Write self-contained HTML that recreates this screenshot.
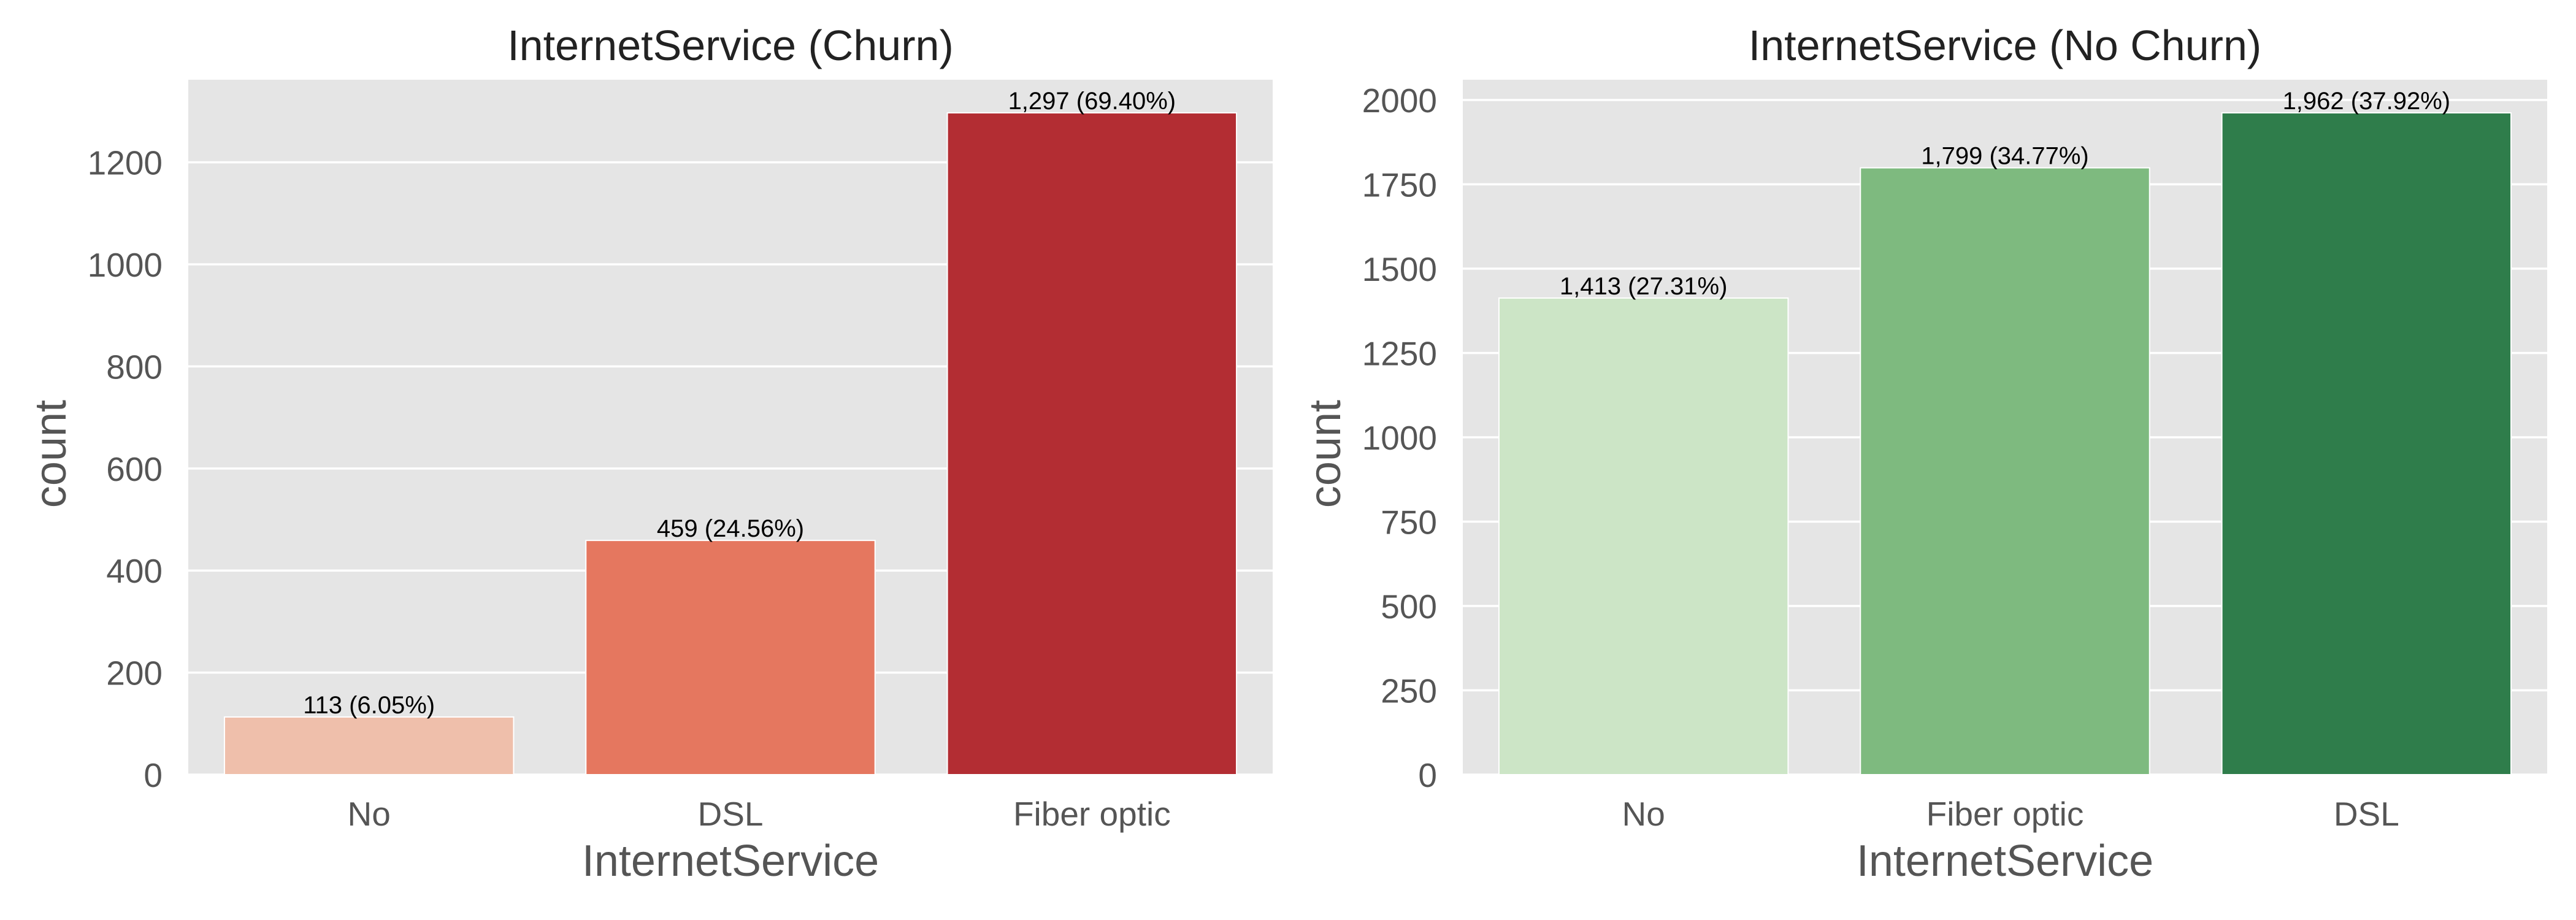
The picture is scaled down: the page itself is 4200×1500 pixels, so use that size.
<!DOCTYPE html>
<html><head><meta charset="utf-8"><style>
html,body{margin:0;padding:0;background:#fff;}
svg{display:block;font-family:"Liberation Sans",Arial,sans-serif;}
</style></head><body>
<svg id="chart" width="4200" height="1500" viewBox="0 0 4200 1500" xmlns="http://www.w3.org/2000/svg"></svg>
<script>
const churnCategories = ["No", "DSL", "Fiber optic"];
const churnValues = [113, 459, 1297];
const churnLabels = ["113 (6.05%)", "459 (24.56%)", "1,297 (69.40%)"];
const churnTicks = [0, 200, 400, 600, 800, 1000, 1200];
const churnColors = ["#efbfab", "#e5775f", "#b32d33"];

const noChurnCategories = ["No", "Fiber optic", "DSL"];
const noChurnValues = [1413, 1799, 1962];
const noChurnLabels = ["1,413 (27.31%)", "1,799 (34.77%)", "1,962 (37.92%)"];
const noChurnTicks = [0, 250, 500, 750, 1000, 1250, 1500, 1750, 2000];
const noChurnColors = ["#cce5c6", "#7eba7f", "#2f7d4b"];

const svg = document.getElementById('chart');
const NS = "http://www.w3.org/2000/svg";
function mk(tag, attrs, parent, text) {
  const e = document.createElementNS(NS, tag);
  for (const k in attrs) e.setAttribute(k, attrs[k]);
  if (text !== undefined) e.textContent = text;
  parent.appendChild(e);
  return e;
}

function panel(key, left, title, cats, vals, labels, ticks, colors) {
  const top = 130, bottom = 1263, width = 1768;
  const maxV = Math.max(...vals) * 1.05;
  const y = v => bottom - (v / maxV) * (bottom - top);
  const slot = width / cats.length;
  const x = i => left + slot * i + slot / 2;

  const g = mk('g', {}, svg);
  
  

  const bg = mk('rect', {x: left, y: top, width: width, height: bottom - top, fill: '#e5e5e5'}, g);
  
  

  ticks.forEach(t => {
    const gl = mk('line', {x1: left, x2: left + width, y1: y(t), y2: y(t), stroke: '#fff', 'stroke-width': 3.5}, g);
    
    
    const tl = mk('text', {x: left - 42, y: y(t) + 20, 'text-anchor': 'end', 'font-size': 55, fill: '#555'}, g, String(t));
    
    
  });

  vals.forEach((v, i) => {
    const bw = slot * 0.8;
    const b = mk('rect', {x: x(i) - bw / 2, y: y(v), width: bw, height: bottom - y(v), fill: colors[i], stroke: '#fff', 'stroke-width': 2}, g);
    
    
    const a = mk('text', {x: x(i), y: y(v) - 6, 'text-anchor': 'middle', 'font-size': 40, fill: '#000'}, g, labels[i]);
    
    
    const xl = mk('text', {x: x(i), y: 1346, 'text-anchor': 'middle', 'font-size': 55, fill: '#555'}, g, cats[i]);
    
    
  });

  const tt = mk('text', {x: left + width / 2, y: 98, 'text-anchor': 'middle', 'font-size': 70, fill: '#222'}, g, title);
  
  
  const xt = mk('text', {x: left + width / 2, y: 1428, 'text-anchor': 'middle', 'font-size': 72, fill: '#555'}, g, 'InternetService');
  
  
  const yx = left - 200;
  const yt = mk('text', {x: yx, y: 740, 'text-anchor': 'middle', 'font-size': 72, fill: '#555', transform: 'rotate(-90 ' + yx + ' 740)'}, g, 'count');
  
  
}

panel('churn', 307, 'InternetService (Churn)', churnCategories, churnValues, churnLabels, churnTicks, churnColors);
panel('no-churn', 2385, 'InternetService (No Churn)', noChurnCategories, noChurnValues, noChurnLabels, noChurnTicks, noChurnColors);
</script>
</body></html>
